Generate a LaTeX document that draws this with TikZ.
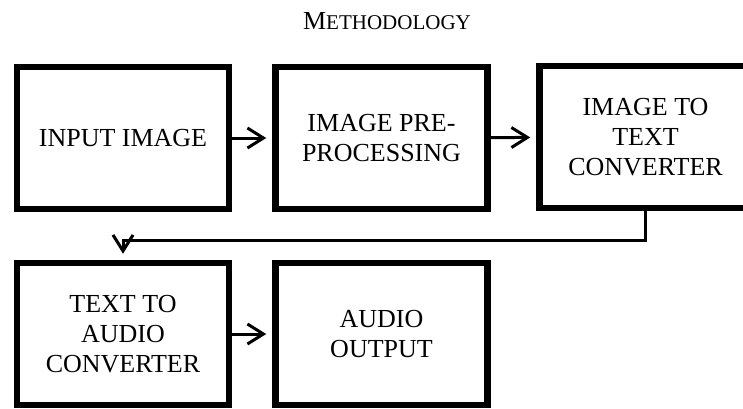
\documentclass[tikz,border=0pt]{standalone}
\usepackage{fontspec}
\setmainfont{Liberation Serif}
\usetikzlibrary{arrows.meta}
\begin{document}
\begin{tikzpicture}[x=1pt,y=-1pt,
box/.style={draw,line width=6.5pt,minimum width=212pt,minimum height=142pt,
  align=center,inner sep=0pt,font=\fontsize{26}{30}\selectfont},
arr/.style={line width=3pt,shorten >=6pt,-{Straight Barb[length=16pt,width=20pt]}}]
\useasboundingbox (0,0) rectangle (743,408);
\node (t) at (387,21) {\fontsize{26}{26}\selectfont M\fontsize{21}{21}\selectfont ETHODOLOGY};
\node (b1) at (123,138) [box] {INPUT IMAGE};
\node (b2) at (381.5,138) [box] {IMAGE PRE-\\PROCESSING};
\node (b3) at (645.5,137) [box] {IMAGE TO\\TEXT\\CONVERTER};
\node (b4) at (123,334) [box] {TEXT TO\\AUDIO\\CONVERTER};
\node (b5) at (381.5,334) [box] {AUDIO\\OUTPUT};

\draw[arr] (b1) -- (b2);
\draw[arr] (b2) -- (b3);
\draw[arr] (b3.south) -- ++(0,29) -| (b4.north);
\draw[arr] (b4) -- (b5);

\end{tikzpicture}
\end{document}
